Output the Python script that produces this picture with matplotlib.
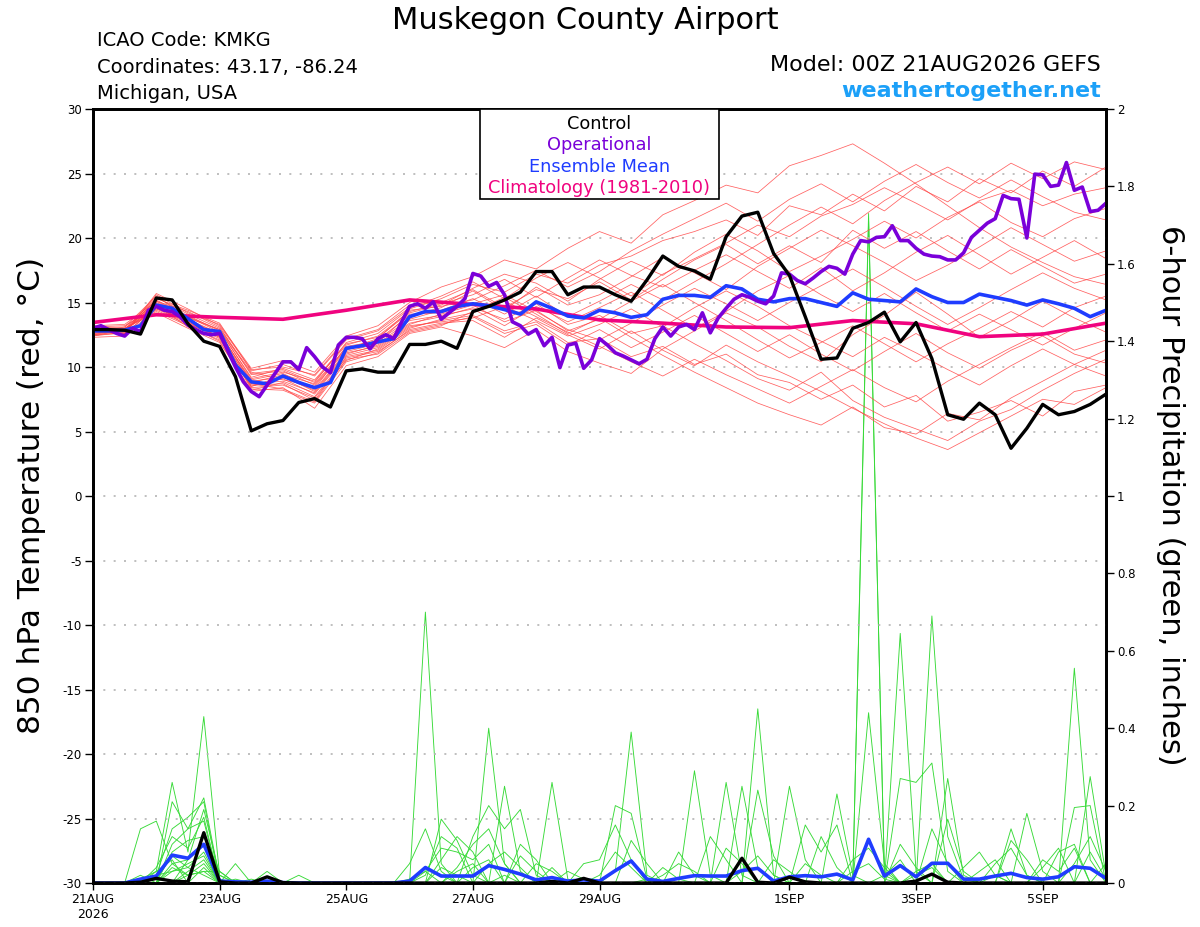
import numpy as np
import matplotlib.pyplot as plt
from matplotlib.ticker import FuncFormatter
from matplotlib.patches import Rectangle

plt.rcParams['axes.unicode_minus'] = False

# hours after 00Z 21AUG2026
tick_hours = [0, 48, 96, 144, 192, 264, 312, 360]
tick_labels = ['21AUG\n2026', '23AUG', '25AUG', '27AUG', '29AUG', '1SEP', '3SEP', '5SEP']

# 850 hPa temperature, 6-hourly
control_t = [12.9, 12.9, 12.85, 12.55, 15.35, 15.2, 13.35, 12.0, 11.6, 9.25, 5.05, 5.6, 5.85,
             7.25, 7.55, 6.9, 9.7, 9.85, 9.6, 9.6, 11.75, 11.75, 12.0, 11.45, 14.3, 14.7,
             15.2, 15.8, 17.4, 17.4, 15.6, 16.2, 16.2, 15.6, 15.1, 16.75, 18.6, 17.8, 17.45,
             16.8, 20.1, 21.7, 22.0, 18.8, 17.1, 13.9, 10.6, 10.7, 13.0, 13.45, 14.25, 11.95,
             13.45, 10.65, 6.3, 5.95, 7.2, 6.3, 3.7, 5.25, 7.1, 6.3, 6.55, 7.1, 7.9]

mean_t = [12.8, 12.8, 12.85, 13.2, 14.8, 14.55, 13.75, 12.9, 12.75, 10.15, 8.85, 8.7, 9.3,
          8.8, 8.4, 8.8, 11.45, 11.65, 11.95, 12.2, 13.9, 14.3, 14.3, 14.7, 14.9, 14.75,
          14.45, 14.1, 15.05, 14.55, 13.95, 13.8, 14.4, 14.2, 13.85, 14.05, 15.25, 15.55, 15.55,
          15.4, 16.3, 16.05, 15.25, 15.05, 15.3, 15.3, 15.0, 14.7, 15.75, 15.25, 15.15, 15.05,
          16.05, 15.45, 15.0, 15.0, 15.65, 15.4, 15.15, 14.8, 15.2, 14.9, 14.55, 13.9, 14.4]

# operational run, 3-hourly
oper_t = [13.0, 13.2, 12.9, 12.6, 12.4, 13.0, 12.75, 14.4,
          14.7, 14.4, 14.3, 13.9, 13.25, 12.9, 12.6, 12.5,
          12.6, 11.3, 10.0, 8.85, 8.1, 7.7, 8.6, 9.5,
          10.4, 10.4, 9.8, 11.5, 10.8, 10.0, 9.55, 11.7,
          12.3, 12.3, 12.2, 11.4, 12.2, 12.5, 12.2, 13.5,
          14.7, 14.9, 14.55, 15.05, 13.7, 14.2, 14.7, 15.3,
          17.25, 17.05, 16.25, 16.55, 15.6, 13.5, 13.2, 12.55,
          12.9, 11.65, 12.3, 9.95, 11.7, 11.85, 9.9, 10.55,
          12.2, 11.7, 11.1, 10.85, 10.55, 10.25, 10.6, 12.2,
          13.1, 12.4, 13.1, 13.3, 12.9, 14.2, 12.65, 13.8,
          14.55, 15.25, 15.6, 15.4, 15.1, 14.9, 15.5, 17.3,
          17.2, 16.7, 16.45, 16.9, 17.4, 17.8, 17.65, 17.2,
          18.75, 19.8, 19.7, 20.05, 20.1, 20.95, 19.8, 19.8,
          19.2, 18.75, 18.6, 18.55, 18.3, 18.3, 18.85, 20.05,
          20.6, 21.15, 21.5, 23.3, 23.05, 23.0, 20.0, 24.95,
          24.9, 24.0, 24.1, 25.85, 23.7, 23.95, 22.05, 22.15,
          22.7]

# climatology, daily
clim_t = [13.45, 14.05, 13.85, 13.7, 14.4, 15.2, 14.85, 14.5, 13.65,
          13.4, 13.1, 13.05, 13.6, 13.35, 12.35, 12.55, 13.4]

# ensemble members, 12-hourly
members_t = [
    [12.5, 12.8, 15.2, 13.9, 12.9, 9.5, 9.8, 8.8, 11.9, 12.6, 14.5, 15.3, 16.4, 15.8, 17.2, 16.5, 17.9,
     18.6, 19.8, 20.5, 21.4, 20.2, 22.5, 21.8, 23.4, 22.1, 24.0, 22.8, 24.6, 23.5, 25.2, 24.0, 25.5],
    [13.1, 13.2, 14.6, 13.5, 12.3, 8.4, 8.6, 7.6, 10.5, 11.4, 13.1, 13.6, 14.0, 12.8, 13.5, 11.9, 12.2,
     10.8, 11.6, 10.2, 11.0, 9.4, 8.8, 7.5, 8.6, 6.9, 7.8, 5.8, 6.5, 7.4, 6.2, 8.1, 8.6],
    [12.7, 12.6, 15.6, 14.2, 13.3, 9.9, 10.5, 9.6, 12.4, 13.2, 15.0, 16.2, 17.0, 18.3, 17.6, 19.2, 20.5,
     19.6, 21.8, 22.9, 24.1, 23.5, 25.6, 26.4, 27.3, 25.8, 24.2, 22.5, 20.8, 19.3, 18.1, 17.0, 16.4],
    [12.9, 13.0, 14.3, 13.2, 12.0, 8.1, 8.4, 6.8, 10.1, 10.8, 12.6, 13.1, 12.4, 11.5, 12.9, 11.2, 10.3,
     9.5, 11.4, 12.8, 14.2, 13.1, 11.6, 10.4, 12.5, 14.0, 15.8, 14.1, 12.3, 13.6, 15.1, 13.8, 12.7],
    [12.4, 12.7, 15.0, 14.0, 12.8, 9.2, 9.9, 9.0, 11.8, 12.3, 14.2, 14.8, 16.1, 17.2, 16.5, 15.1, 16.8,
     18.2, 17.1, 18.9, 20.3, 19.0, 17.4, 18.6, 19.9, 21.3, 20.0, 21.6, 22.8, 21.2, 20.1, 21.5, 22.3],
    [13.0, 13.1, 14.9, 13.6, 12.5, 8.7, 8.9, 8.0, 11.0, 11.7, 13.4, 13.9, 14.6, 13.7, 14.9, 13.3, 14.0,
     12.6, 13.2, 11.8, 10.5, 9.1, 8.2, 9.6, 7.4, 6.1, 5.2, 4.3, 5.8, 6.7, 8.2, 9.5, 10.6],
    [12.6, 12.9, 15.4, 14.1, 13.0, 9.6, 9.0, 8.5, 11.3, 12.1, 14.0, 14.6, 15.9, 14.4, 16.2, 14.8, 15.6,
     17.0, 18.5, 17.3, 16.0, 17.8, 19.2, 20.6, 19.4, 18.1, 16.7, 17.9, 19.3, 20.8, 19.5, 18.2, 19.0],
    [12.8, 12.5, 14.7, 13.4, 12.2, 8.5, 9.1, 7.9, 10.9, 11.5, 13.2, 13.5, 13.8, 14.7, 13.6, 12.4, 13.3,
     14.5, 13.1, 14.6, 15.9, 14.7, 13.2, 12.0, 10.8, 12.3, 11.1, 9.8, 8.6, 10.1, 11.4, 10.2, 9.3],
    [12.3, 12.4, 14.5, 13.7, 12.6, 9.0, 9.5, 8.3, 11.6, 12.0, 13.7, 14.4, 15.3, 14.1, 15.5, 13.9, 15.1,
     16.4, 15.2, 16.6, 18.0, 19.5, 21.0, 22.4, 21.1, 22.9, 24.3, 25.5, 24.2, 25.8, 24.6, 25.9, 25.3],
    [13.2, 13.3, 15.1, 13.9, 12.7, 8.8, 9.4, 8.7, 11.5, 11.9, 14.1, 14.2, 14.9, 15.6, 14.3, 12.9, 12.1,
     13.4, 14.8, 16.1, 14.9, 13.6, 15.0, 16.3, 17.6, 16.2, 14.7, 13.3, 14.6, 16.0, 17.3, 16.1, 15.2],
    [12.5, 13.0, 14.4, 13.3, 12.4, 8.3, 8.2, 7.2, 10.4, 11.1, 12.9, 13.4, 13.6, 12.3, 13.8, 12.5, 11.4,
     12.8, 11.3, 10.1, 11.7, 10.4, 9.3, 8.1, 6.8, 5.6, 4.5, 3.6, 4.9, 6.2, 7.5, 7.1, 8.4],
    [12.9, 12.7, 15.3, 14.4, 13.4, 9.7, 10.2, 9.3, 12.1, 12.8, 14.6, 15.5, 16.6, 15.3, 16.9, 18.1, 16.9,
     15.5, 17.2, 18.4, 19.6, 21.0, 20.1, 21.7, 22.6, 23.9, 22.7, 21.4, 22.9, 23.7, 22.5, 23.4, 23.9],
    [12.6, 12.8, 14.8, 13.1, 12.1, 8.6, 8.7, 7.4, 10.8, 11.3, 13.0, 13.7, 14.2, 15.1, 13.9, 12.7, 11.6,
     10.4, 9.3, 10.6, 9.4, 8.3, 7.2, 8.5, 9.8, 8.4, 7.3, 8.9, 10.2, 11.5, 12.7, 11.3, 12.1],
    [12.7, 13.1, 15.5, 13.8, 12.9, 9.1, 9.6, 8.9, 11.7, 12.4, 14.3, 14.9, 15.6, 16.8, 15.4, 16.9, 18.3,
     17.1, 16.2, 17.5, 18.7, 17.4, 16.1, 17.7, 15.9, 17.3, 18.9, 20.2, 18.7, 17.2, 18.5, 19.8, 18.4],
    [13.0, 12.6, 14.6, 13.6, 12.6, 8.9, 9.2, 8.2, 11.2, 11.8, 13.6, 14.0, 14.5, 13.2, 14.7, 13.5, 14.6,
     15.8, 14.4, 13.0, 14.3, 15.9, 17.1, 15.6, 14.3, 15.7, 14.2, 12.8, 14.1, 12.9, 11.7, 13.0, 14.2],
    [12.4, 12.9, 15.1, 14.3, 13.1, 9.4, 9.7, 8.6, 11.4, 12.2, 14.4, 14.7, 15.2, 16.3, 17.5, 16.2, 17.4,
     19.0, 20.3, 21.5, 22.7, 21.3, 23.0, 24.2, 22.8, 24.4, 25.7, 24.3, 23.1, 24.5, 23.2, 22.0, 21.4],
    [12.8, 13.0, 14.2, 13.0, 11.9, 8.2, 8.8, 7.7, 10.7, 11.2, 12.8, 13.3, 13.9, 12.6, 13.3, 11.7, 12.9,
     11.5, 12.7, 14.0, 12.6, 11.2, 12.5, 11.0, 9.7, 11.2, 12.6, 11.1, 9.9, 11.3, 12.4, 11.0, 10.3],
    [12.5, 12.6, 15.7, 14.5, 13.2, 9.8, 10.0, 9.4, 12.2, 12.9, 14.8, 15.0, 16.0, 14.6, 16.0, 15.3, 16.6,
     15.2, 16.8, 18.3, 19.5, 18.0, 19.4, 18.1, 20.6, 19.2, 20.5, 19.0, 17.6, 19.1, 17.8, 16.5, 17.2],
    [13.1, 12.8, 14.9, 13.5, 12.3, 8.5, 9.3, 8.1, 11.1, 11.6, 13.3, 14.1, 14.8, 13.5, 14.4, 12.8, 13.7,
     15.1, 16.4, 15.0, 13.6, 12.1, 10.7, 11.9, 13.2, 11.8, 10.4, 11.8, 13.0, 14.3, 13.1, 14.6, 15.5],
    [12.7, 12.9, 14.5, 13.4, 12.4, 8.7, 8.3, 7.3, 10.6, 11.0, 12.7, 13.2, 14.3, 15.4, 14.1, 12.6, 13.8,
     12.3, 10.9, 9.6, 8.4, 7.2, 6.3, 5.5, 6.9, 5.3, 4.8, 6.4, 5.9, 7.6, 8.9, 10.2, 11.3],
]

# 6-hour precipitation (inches), 6-hourly
control_p = [0, 0, 0, .002, .012, .005, .003, .13, .003, 0, 0, .016, .001,
             0, 0, 0, 0, 0, 0, 0, 0, 0, 0, 0, 0, 0,
             0, 0, 0, .004, 0, .012, 0, 0, 0, 0, 0, 0, 0,
             0, 0, .064, .002, 0, .015, .003, 0, 0, 0, 0, 0, 0,
             .005, .023, .002, 0, 0, 0, 0, 0, 0, 0, 0, 0, 0]

mean_p = [0, 0, 0, .01, .018, .072, .064, .10, .005, .003, .002, .005, .001,
          0, 0, 0, 0, 0, 0, 0, .005, .04, .018, .018, .018, .045,
          .035, .023, .008, .014, .005, .008, .005, .032, .057, .01, .004, .012, .019,
          .018, .018, .032, .038, .005, .016, .019, .016, .023, .008, .113, .018, .045,
          .016, .051, .051, .01, .01, .018, .025, .014, .01, .016, .042, .038, .012]

members_p = [
    [0, 0, 0, .14, .16, .05, .02, .03, 0, 0, 0, 0, 0,
     0, 0, 0, 0, 0, 0, 0, 0, .70, .05, 0, 0, 0,
     0, 0, 0, 0, 0, 0, 0, .03, .39, .02, 0, 0, 0,
     0, 0, 0, 0, 0, 0, 0, 0, 0, 0, 1.73, .02, 0,
     0, 0, 0, 0, 0, .02, 0, 0, 0, 0, 0, 0, 0],
    [0, 0, 0, 0, .03, .26, .08, .43, .02, 0, 0, 0, 0,
     0, 0, 0, 0, 0, 0, 0, 0, 0, 0, 0, 0, .40,
     .05, 0, 0, 0, 0, 0, 0, 0, 0, 0, 0, 0, .29,
     .02, 0, 0, 0, 0, 0, 0, 0, 0, 0, 0, 0, 0,
     0, .69, .12, .01, 0, 0, 0, 0, 0, 0, 0, 0, 0],
    [0, 0, 0, 0, 0, .21, .14, .22, .01, 0, 0, 0, 0,
     0, 0, 0, 0, 0, 0, 0, .05, .14, .03, 0, 0, 0,
     0, 0, 0, .26, .01, 0, 0, 0, 0, 0, 0, 0, 0,
     0, 0, 0, .45, .02, 0, 0, 0, 0, 0, 0, 0, .645,
     .03, 0, 0, 0, 0, 0, 0, 0, 0, 0, .555, .06, 0],
    [0, 0, 0, 0, .02, .14, .17, .21, 0, .05, 0, 0, 0,
     0, 0, 0, 0, 0, 0, 0, 0, 0, .165, .11, .02, 0,
     0, 0, 0, 0, 0, 0, 0, .20, .18, .01, 0, 0, 0,
     0, .26, .02, 0, 0, 0, 0, 0, 0, 0, 0, 0, .27,
     .26, .31, .03, 0, 0, 0, 0, 0, 0, 0, 0, .275, .02],
    [0, 0, 0, 0, 0, .10, .14, .16, 0, 0, 0, .03, 0,
     0, 0, 0, 0, 0, 0, 0, 0, .02, .12, .09, 0, 0,
     .25, .03, 0, 0, 0, 0, 0, 0, 0, 0, 0, 0, 0,
     0, 0, .25, .04, 0, 0, 0, 0, 0, 0, 0, 0, 0,
     0, 0, .27, .02, 0, 0, 0, 0, 0, 0, .195, .20, 0],
    [0, 0, 0, 0, 0, 0, .06, .19, .02, 0, 0, 0, 0,
     .02, 0, 0, 0, 0, 0, 0, 0, 0, 0, 0, .12, .20,
     .14, .19, .02, 0, 0, 0, 0, 0, 0, 0, 0, 0, 0,
     0, 0, 0, 0, 0, .25, .06, 0, 0, 0, 0, 0, 0,
     0, 0, 0, 0, 0, 0, .14, .02, 0, 0, 0, 0, 0],
    [0, 0, 0, 0, .04, .12, .09, .17, 0, 0, 0, 0, 0,
     0, 0, 0, 0, 0, 0, 0, 0, 0, 0, .04, .10, .14,
     .05, 0, 0, 0, 0, 0, 0, 0, 0, 0, 0, 0, 0,
     0, 0, 0, 0, 0, 0, 0, 0, .23, .02, 0, 0, 0,
     0, 0, 0, 0, 0, 0, 0, .18, .03, 0, 0, 0, 0],
    [0, 0, 0, .02, 0, .08, .11, .12, .03, 0, 0, 0, 0,
     0, 0, 0, 0, 0, 0, 0, 0, 0, 0, 0, 0, 0,
     0, .10, .06, 0, 0, 0, 0, 0, 0, 0, 0, 0, 0,
     0, 0, 0, 0, 0, 0, .15, .08, .15, 0, .44, .05, 0,
     0, 0, .165, .03, 0, 0, 0, 0, 0, 0, 0, 0, 0],
    [0, 0, 0, 0, 0, .05, .06, .10, 0, .01, 0, 0, 0,
     0, 0, 0, 0, 0, 0, 0, 0, 0, 0, 0, 0, 0,
     0, 0, 0, 0, 0, .05, .06, .15, .06, 0, 0, .08, .02,
     0, 0, 0, .24, .07, 0, 0, 0, 0, 0, 1.71, .03, 0,
     0, 0, 0, 0, 0, 0, 0, 0, 0, 0, 0, 0, 0],
    [0, 0, 0, 0, .01, .07, .04, .08, 0, 0, 0, 0, 0,
     0, 0, 0, 0, 0, 0, 0, 0, .03, .09, .08, .06, .10,
     0, 0, 0, 0, 0, 0, 0, 0, 0, 0, .04, .01, 0,
     0, 0, 0, 0, 0, 0, 0, 0, 0, 0, 0, 0, 0,
     .03, .05, 0, 0, 0, 0, .11, .06, 0, .08, .10, 0, 0],
    [0, 0, 0, 0, 0, 0, .03, .06, 0, 0, 0, 0, 0,
     0, 0, 0, 0, 0, 0, 0, 0, 0, .06, .12, .08, 0,
     0, 0, .05, .03, 0, 0, 0, 0, 0, 0, 0, 0, 0,
     .12, .06, 0, 0, 0, 0, 0, 0, 0, .06, .09, .04, 0,
     0, 0, 0, 0, .03, .06, 0, 0, .04, .09, 0, 0, .05],
    [0, 0, 0, 0, 0, .04, .02, .05, 0, 0, 0, 0, 0,
     0, 0, 0, 0, 0, 0, 0, .01, .03, 0, 0, 0, .05,
     .08, .04, 0, 0, 0, 0, 0, 0, .11, .05, 0, 0, 0,
     0, 0, 0, 0, .06, .03, 0, 0, 0, 0, 0, .02, .06,
     0, .14, .05, 0, 0, 0, 0, 0, 0, 0, 0, .08, .01],
    [0, 0, 0, .01, .03, .06, 0, .04, 0, 0, .01, 0, 0,
     0, 0, 0, 0, 0, 0, 0, 0, 0, 0, .03, .05, 0,
     .02, 0, 0, 0, .03, .01, 0, 0, 0, 0, 0, 0, 0,
     0, .09, .05, 0, 0, 0, 0, .12, .04, 0, 0, 0, 0,
     0, 0, 0, .04, .08, .02, 0, 0, 0, 0, 0, 0, 0],
    [0, 0, 0, 0, 0, .03, .05, .07, 0, 0, 0, 0, 0,
     0, 0, 0, 0, 0, 0, 0, 0, .04, .02, 0, 0, 0,
     0, .07, .03, 0, 0, 0, .02, .08, .04, 0, 0, 0, 0,
     0, 0, 0, 0, 0, 0, .05, .02, 0, 0, 0, 0, 0,
     .02, .04, 0, 0, 0, 0, 0, 0, .06, .03, .09, 0, 0],
    [0, 0, 0, 0, 0, 0, .02, .03, .03, 0, 0, 0, 0,
     0, 0, 0, 0, 0, 0, 0, 0, 0, 0, 0, .04, .06,
     0, 0, 0, .04, 0, 0, 0, 0, 0, 0, .02, .05, .03,
     0, 0, 0, 0, 0, 0, 0, 0, 0, .03, .05, .01, 0,
     0, 0, 0, 0, 0, .05, .09, .02, 0, 0, 0, 0, 0],
    [0, 0, 0, 0, .02, .03, .04, .02, 0, 0, 0, 0, 0,
     0, 0, 0, 0, 0, 0, 0, 0, 0, .04, .02, 0, 0,
     0, 0, 0, 0, 0, 0, 0, 0, 0, .01, 0, 0, 0,
     0, 0, .03, .07, .02, 0, 0, 0, 0, 0, 0, 0, .10,
     .04, 0, 0, 0, 0, 0, 0, 0, 0, 0, .05, .12, .03],
]

hours6 = np.arange(len(mean_t)) * 6
hours3 = np.arange(len(oper_t)) * 3
hours12 = np.arange(len(members_t[0])) * 12
hours24 = np.arange(len(clim_t)) * 24

W, H = 1200, 927
fig = plt.figure(figsize=(W / 100, H / 100), dpi=100)
axp = fig.add_axes([93 / W, 1 - 883 / H, 1013 / W, 774 / H])
axt = axp.twinx()
axp.yaxis.tick_right()
axt.yaxis.tick_left()

# precipitation (right axis)
for p in members_p:
    axp.plot(hours6, p, color='#38da38', lw=0.65)
axp.plot(hours6, mean_p, color='#1f3cff', lw=2.6)
axp.plot(hours6, control_p, color='black', lw=2.4)

# temperature (left axis)
for m in members_t:
    axt.plot(hours12, m, color='#ff4545', lw=0.55, alpha=0.85)
axt.plot(hours24, clim_t, color='#f0037f', lw=2.6)
axt.plot(hours6, mean_t, color='#1f3cff', lw=2.6)
axt.plot(hours3, oper_t, color='#7a00d9', lw=2.6)
axt.plot(hours6, control_t, color='black', lw=2.4)

axp.set_xlim(0, 384)
axp.set_ylim(0, 2)
axt.set_ylim(-30, 30)
axt.set_yticks(np.arange(-30, 31, 5))
axp.set_yticks(np.arange(0, 2.01, 0.2))
axp.yaxis.set_major_formatter(FuncFormatter(lambda v, _: '%g' % round(v, 1)))
axp.set_xticks(tick_hours)
axp.set_xticklabels(tick_labels)

axt.yaxis.grid(True, color='#b4b4b4', linestyle=(0, (1.2, 5)), lw=1.2)
for ax in (axp, axt):
    ax.tick_params(direction='out', length=6, width=1, labelsize=8.5, pad=2)
    for s in ax.spines.values():
        s.set_linewidth(2)
axp.tick_params(axis='x', labelsize=9, length=5)

# legend box
axt.add_patch(Rectangle((0.382, 0.8837), 0.236, 0.1163, transform=axt.transAxes,
                        facecolor='white', edgecolor='black', lw=1.2, zorder=5))
leg = [('Control', 'black', 0.9745), ('Operational', '#7a00d9', 0.9475),
       ('Ensemble Mean', '#1f3cff', 0.919), ('Climatology (1981-2010)', '#f0037f', 0.891)]
for txt, col, yy in leg:
    axt.text(0.5, yy, txt, color=col, fontsize=12.8, ha='center', va='baseline',
             transform=axt.transAxes, zorder=6)

# header
fig.text(585 / W, 1 - 29 / H, 'Muskegon County Airport', ha='center', va='baseline', fontsize=22)
for i, line in enumerate(['ICAO Code: KMKG', 'Coordinates: 43.17, -86.24', 'Michigan, USA']):
    fig.text(97 / W, 1 - (46 + 26.7 * i) / H, line, ha='left', va='baseline', fontsize=14)
fig.text(1101 / W, 1 - 71 / H, 'Model: 00Z 21AUG2026 GEFS', ha='right', va='baseline', fontsize=16)
fig.text(1101 / W, 1 - 97 / H, 'weathertogether.net', ha='right', va='baseline', fontsize=16,
         fontweight='bold', color='#1ca0f8')

fig.text(32 / W, 1 - 495 / H, '850 hPa Temperature (red, °C)', rotation=90,
         ha='center', va='center', fontsize=22.5)
fig.text(1171 / W, 1 - 495 / H, '6-hour Precipitation (green, inches)', rotation=270,
         ha='center', va='center', fontsize=22)

fig.savefig('out.png', dpi=100)
